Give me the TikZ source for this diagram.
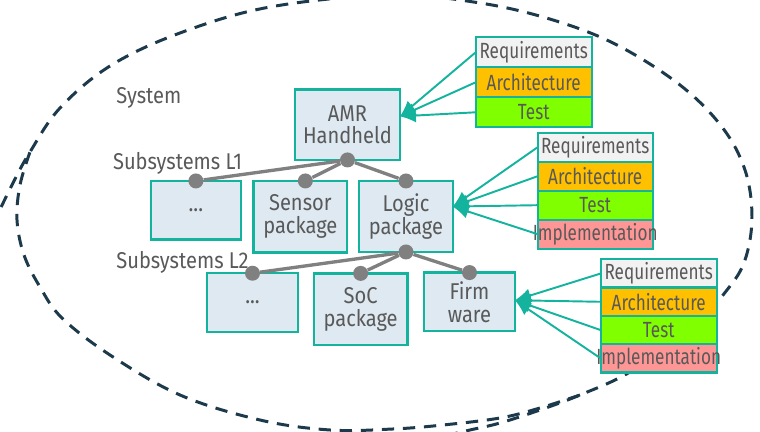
\documentclass[tikz,border=0pt]{standalone}
\usepackage{fontspec}
\setmainfont{Fira Sans}[FakeStretch=0.88]
\newfontfamily\stackfont{Fira Sans}[FakeStretch=0.78]
\usepackage{tikz}
\usetikzlibrary{positioning}
\usetikzlibrary{arrows.meta}
\definecolor{tealline}{RGB}{20,179,158}
\definecolor{boxblue}{RGB}{222,233,242}
\definecolor{txtgray}{RGB}{89,89,89}
\definecolor{dotgray}{RGB}{128,128,128}
\definecolor{navyline}{RGB}{28,58,75}
\definecolor{reqgray}{RGB}{242,242,242}
\definecolor{archorange}{RGB}{255,192,0}
\definecolor{testgreen}{RGB}{128,255,0}
\definecolor{implred}{RGB}{255,150,150}
\newcommand{\wide}[1]{\makebox[0pt]{#1}}
\tikzset{
  box/.style={draw=tealline, line width=1.3pt, fill=boxblue, text=txtgray,
    align=center, inner sep=0pt, outer sep=0pt,
    font=\fontsize{13}{13}\selectfont},
  reqrow/.style={box, minimum width=2.32cm, minimum height=0.59cm,
    font=\stackfont\fontsize{12.5}{13}\selectfont},
  dot/.style={circle, fill=dotgray, inner sep=0pt, minimum size=0.3cm},
  tree/.style={dotgray, line width=1.9pt},
  feed/.style={tealline, line width=1.1pt, -{Latex[length=9pt,width=8pt]}},
  lbl/.style={text=txtgray, inner sep=0pt, anchor=base west,
    font=\fontsize{13}{13}\selectfont},
  border/.style={navyline, line width=1.7pt, dash pattern=on 7pt off 5pt}
}

\begin{document}
\begin{tikzpicture}
    \useasboundingbox (0,0) rectangle (15.2,8.64);
    \draw[border] plot[smooth, tension=0.6] coordinates {(-0.16,4.12) (0.26,4.98) (0.6,5.6) (1.2,6.48) (2.2,7.32) (3.6,7.98) (5.4,8.5) (7.8,8.74) (9.6,8.58) (11.06,8.24) (12.34,7.74) (13.6,6.94) (14.44,6.1) (14.9,5.24) (15.04,4.3) (14.9,3.44) (14.54,2.84) (13.8,2.04) (12.6,1.2) (11.6,0.74) (10.8,0.44) (10.0,0.18) (9.4,0.04) (8.8,-0.1)};
    \draw[border] plot[smooth, tension=0.6] coordinates {(11.6,0.74) (10.8,0.48) (10.0,0.28) (8.86,0.14) (7.86,0.06) (6.6,0.04) (5.2,0.24) (3.6,0.74) (2.2,1.54) (1.24,2.28) (0.8,2.9) (0.48,3.54) (0.34,4.24) (0.4,4.94) (0.6,5.6)};

    \node[lbl] (system) at (2.32,6.574) {System};
    \node[lbl] (subone) at (2.254,5.24) {Subsystems L1};
    \node[lbl] (subtwo) at (2.32,3.274) {Subsystems L2};

    \node[box, minimum width=2.1cm, minimum height=1.41cm] (amr) at (6.95,6.146) {AMR\\Handheld};
    \node[box, minimum width=1.81cm, minimum height=1.17cm] (lonedots) at (3.918,4.436) {...};
    \node[box, minimum width=1.87cm, minimum height=1.43cm] (sensor) at (6.007,4.306) {Sensor\\package};
    \node[box, minimum width=1.87cm, minimum height=1.42cm] (logic) at (8.12,4.31) {Logic\\package};
    \node[box, minimum width=1.81cm, minimum height=1.17cm] (ltwodots) at (5.05,2.59) {...};
    \node[box, minimum width=1.87cm, minimum height=1.43cm] (soc) at (7.213,2.457) {SoC\\package};
    \node[box, minimum width=1.82cm, minimum height=1.17cm] (firm) at (9.39,2.603) {Firm\\ware};

    \node[dot] (amrdot) at (amr.south) {};
    \node[dot] (lonedot) at (lonedots.north) {};
    \node[dot] (sensordot) at ([xshift=0.1cm]sensor.north) {};
    \node[dot] (logicdot) at (logic.north) {};
    \node[dot] (logicbot) at (logic.south) {};
    \node[dot] (ltwodot) at (ltwodots.north) {};
    \node[dot] (socdot) at (soc.north) {};
    \node[dot] (firmdot) at (firm.north) {};
    \draw[tree] (amrdot) -- (lonedot);
    \draw[tree] (amrdot) -- (sensordot);
    \draw[tree] (amrdot) -- (logicdot);
    \draw[tree] (logicbot) -- (ltwodot);
    \draw[tree] (logicbot) -- (socdot);
    \draw[tree] (logicbot) -- (firmdot);

    \node[reqrow, fill=reqgray, minimum height=0.6cm] (amrreq) at (10.674,7.594) {Requirements};
    \node[reqrow, fill=archorange, minimum height=0.6cm, below=0pt of amrreq] (amrarch) {Architecture};
    \node[reqrow, fill=testgreen, minimum height=0.6cm, below=0pt of amrarch] (amrtest) {Test};

    \node[reqrow, fill=reqgray, minimum width=2.3cm, minimum height=0.58cm] (logreq) at (11.904,5.696) {Requirements};
    \node[reqrow, fill=archorange, minimum width=2.3cm, minimum height=0.58cm, below=0pt of logreq] (logarch) {Architecture};
    \node[reqrow, fill=testgreen, minimum width=2.3cm, minimum height=0.58cm, below=0pt of logarch] (logtest) {Test};
    \node[reqrow, fill=implred, minimum width=2.3cm, minimum height=0.58cm, below=0pt of logtest] (logimpl) {\wide{Implementation}};

    \node[reqrow, fill=reqgray, minimum height=0.566cm] (fwreq) at (13.174,3.17) {Requirements};
    \node[reqrow, fill=archorange, minimum height=0.566cm, below=0pt of fwreq] (fwarch) {Architecture};
    \node[reqrow, fill=testgreen, minimum height=0.566cm, below=0pt of fwarch] (fwtest) {Test};
    \node[reqrow, fill=implred, minimum height=0.566cm, below=0pt of fwtest] (fwimpl) {\wide{Implementation}};

    \draw[feed] (amrreq.west) -- (amr.9);
    \draw[feed] (amrarch.west) -- (amr.9);
    \draw[feed] (amrtest.west) -- (amr.9);
    \draw[feed] (logreq.west) -- (logic.12);
    \draw[feed] (logarch.west) -- (logic.12);
    \draw[feed] (logtest.west) -- (logic.12);
    \draw[feed] (logimpl.west) -- (logic.12);
    \draw[feed] (fwreq.west) -- (firm.2);
    \draw[feed] (fwarch.west) -- (firm.2);
    \draw[feed] (fwtest.west) -- (firm.2);
    \draw[feed] (fwimpl.west) -- (firm.2);
\end{tikzpicture}
\end{document}
